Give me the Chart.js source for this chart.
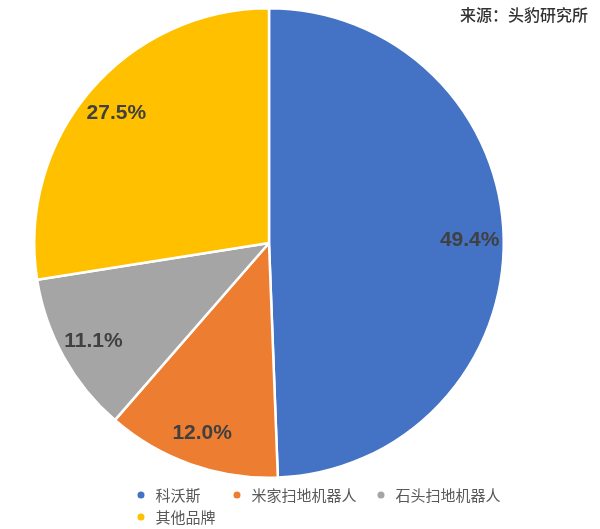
<!DOCTYPE html>
<html><head><meta charset="utf-8">
<script src="https://cdn.jsdelivr.net/npm/chart.js@4"></script>
<style>html,body{margin:0;padding:0;background:#fff;}#wrap{width:600px;height:529px;position:relative;}</style>
</head><body><div id="wrap"><canvas id="c" width="600" height="529"></canvas></div>
<script>
const categories = ['科沃斯', '米家扫地机器人', '石头扫地机器人', '其他品牌'];
const shares = [49.4, 12.0, 11.1, 27.5];
const colors = ['#4472C4', '#ED7D31', '#A5A5A5', '#FFC000'];
const sourceText = '来源：头豹研究所';

const labelPlugin = {
  id: 'labels',
  afterDatasetsDraw(chart) {
    const ctx = chart.ctx;
    const meta = chart.getDatasetMeta(0);
    ctx.save();
    ctx.font = 'bold 21px "Liberation Sans", Arial, sans-serif';
    ctx.fillStyle = '#404040';
    ctx.textAlign = 'center';
    ctx.textBaseline = 'middle';
    meta.data.forEach((arc, i) => {
      const mid = (arc.startAngle + arc.endAngle) / 2;
      const r = arc.outerRadius * 0.855;
      const x = arc.x + Math.cos(mid) * r;
      const y = arc.y + Math.sin(mid) * r;
      ctx.fillText(shares[i].toFixed(1) + '%', x, y + 1);
    });
    // source
    ctx.font = '500 16px "Noto Sans CJK SC", sans-serif';
    ctx.fillStyle = '#333333';
    ctx.textAlign = 'right';
    ctx.fillText(sourceText, 588, 15);
    // legend
    ctx.font = '15px "Noto Sans CJK SC", sans-serif';
    ctx.textAlign = 'left';
    const pos = [[141, 495], [237, 495], [381, 495], [141, 517]];
    categories.forEach((name, i) => {
      const [x, y] = pos[i];
      ctx.fillStyle = colors[i];
      ctx.beginPath();
      ctx.arc(x, y, 3.5, 0, Math.PI * 2);
      ctx.fill();
      ctx.fillStyle = '#595959';
      ctx.fillText(name, x + 14.5, y);
    });
    ctx.restore();
  }
};

new Chart(document.getElementById('c'), {
  type: 'pie',
  data: {
    labels: categories,
    datasets: [{ data: shares, backgroundColor: colors, borderColor: '#ffffff', borderWidth: 2.5 }]
  },
  options: {
    responsive: false,
    animation: false,
    layout: { padding: { left: 33, top: 7, right: 95, bottom: 50 } },
    plugins: { legend: { display: false }, tooltip: { enabled: false } }
  },
  plugins: [labelPlugin]
});
</script></body></html>
